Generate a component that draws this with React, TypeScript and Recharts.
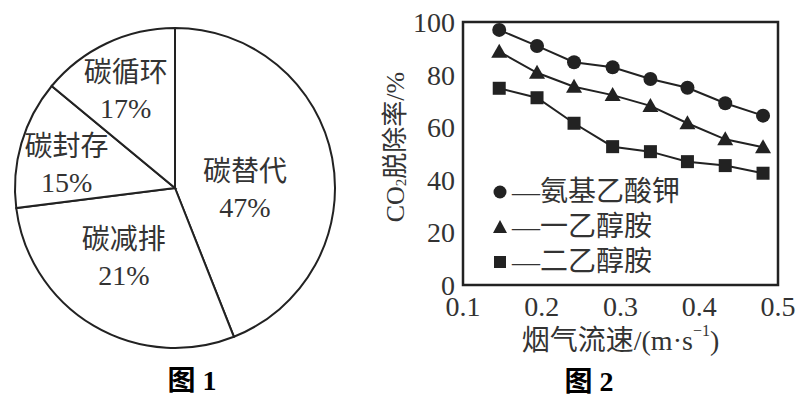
import React from 'react';
import { PieChart, Pie, LineChart, Line, XAxis, YAxis, ReferenceArea, Label } from 'recharts';

const FONT = '"Liberation Serif", "Noto Sans CJK SC", serif';
const INK = '#222';

// 图1
const pieNames = ['碳替代', '碳减排', '碳封存', '碳循环'];
const piePercentText = ['47%', '21%', '15%', '17%'];
// slice sizes as they are drawn (the drawing is not exactly to scale with the printed numbers)
const pieShares = [44, 29, 13, 14];

// 图2
const flowSpeeds = [0.146, 0.194, 0.241, 0.29, 0.338, 0.385, 0.433, 0.481];
const glycinate = [97.0, 90.9, 84.7, 82.8, 78.3, 75.0, 69.1, 64.4];
const monoEthanolamine = [88.7, 80.7, 75.4, 72.2, 68.1, 61.5, 55.4, 52.4];
const diEthanolamine = [74.8, 71.2, 61.5, 52.6, 50.7, 46.9, 45.4, 42.5];
const seriesNames = ['—氨基乙酸钾', '—一乙醇胺', '—二乙醇胺'];
const xTicks = [0.1, 0.2, 0.3, 0.4, 0.5];
const yTicks = [0, 20, 40, 60, 80, 100];

const pieData = pieNames.map((name, i) => ({ name, value: pieShares[i] }));
const lineData = flowSpeeds.map((x, i) => ({
  x,
  a: glycinate[i],
  b: monoEthanolamine[i],
  c: diEthanolamine[i],
}));

// label radius / angle nudge per slice
const SPOTS = [
  { r: 70, da: 11.6 },
  { r: 86, da: 5.9 },
  { r: 111, da: -3.7 },
  { r: 110, da: -1.4 },
];

const renderPieLabel = (p: any) => {
  const s = SPOTS[p.index];
  const t = ((90 - p.midAngle + s.da) * Math.PI) / 180;
  const x = p.cx + s.r * Math.sin(t);
  const y = p.cy - s.r * Math.cos(t);
  return (
    <text x={x} y={y} textAnchor="middle" fill="#333" fontSize={28} fontFamily={FONT}>
      <tspan x={x} dy={-8}>{p.name}</tspan>
      <tspan x={x} dy={36}>{piePercentText[p.index]}</tspan>
    </text>
  );
};

const CircleDot = (p: any) => <circle cx={p.cx} cy={p.cy} r={7} fill={INK} />;
const TriangleDot = (p: any) => (
  <polygon
    points={`${p.cx},${p.cy - 8} ${p.cx - 8},${p.cy + 6} ${p.cx + 8},${p.cy + 6}`}
    fill={INK}
  />
);
const SquareDot = (p: any) => <rect x={p.cx - 6.5} y={p.cy - 6.5} width={13} height={13} fill={INK} />;

const renderYLabel = ({ viewBox }: any) => {
  const cx = viewBox.x + 35;
  const cy = viewBox.y + 125;
  return (
    <text
      x={cx}
      y={cy}
      transform={`rotate(-90 ${cx} ${cy})`}
      textAnchor="middle"
      dominantBaseline="central"
      fontSize={26}
      fontFamily={FONT}
      fill="#333"
    >
      CO<tspan fontSize={15} dy={6}>2</tspan>
      <tspan dy={-6}>脱除率/%</tspan>
    </text>
  );
};

const renderXLabel = ({ viewBox }: any) => {
  const cx = viewBox.x + viewBox.width / 2;
  const cy = viewBox.y + 55;
  return (
    <text x={cx} y={cy} textAnchor="middle" dominantBaseline="central" fontSize={28} fontFamily={FONT} fill="#333">
      烟气流速/(m·s<tspan fontSize={16} dy={-10}>−1</tspan>
      <tspan dy={10}>)</tspan>
    </text>
  );
};

const tickStyle = { fill: '#333', fontSize: 28, fontFamily: FONT };

const legendMarks = [
  <circle key="c" cx={7} cy={7} r={6.5} fill={INK} />,
  <polygon key="t" points="7,0 0,13 14,13" fill={INK} />,
  <rect key="s" x={1} y={1} width={12} height={12} fill={INK} />,
];

export default function App() {
  return (
    <div style={{ position: 'absolute', left: 0, top: 0, width: 804, height: 401, background: '#fff', fontFamily: FONT }}>
      <div style={{ position: 'absolute', left: 0, top: 0 }}>
        <PieChart width={360} height={401} margin={{ top: 0, right: 0, bottom: 0, left: 0 }}>
          <Pie
            data={pieData}
            dataKey="value"
            nameKey="name"
            cx={175}
            cy={188}
            outerRadius={160}
            startAngle={90}
            endAngle={-270}
            fill="#fff"
            stroke={INK}
            strokeWidth={2}
            label={renderPieLabel}
            labelLine={false}
            isAnimationActive={false}
          />
        </PieChart>
      </div>

      <div style={{ position: 'absolute', left: 360, top: 0 }}>
        <LineChart width={444} height={401} data={lineData} margin={{ top: 22, right: 26, bottom: 76, left: 0 }}>
          <XAxis
            dataKey="x"
            type="number"
            domain={[0.1, 0.5]}
            ticks={xTicks}
            interval={0}
            axisLine={false}
            tickLine={false}
            tickSize={0}
            tickMargin={11}
            height={40}
            tick={tickStyle}
          >
            <Label content={renderXLabel} />
          </XAxis>
          <YAxis
            type="number"
            domain={[0, 100]}
            ticks={yTicks}
            interval={0}
            axisLine={false}
            tickLine={false}
            tickSize={0}
            tickMargin={8}
            width={103}
            tick={tickStyle}
          >
            <Label content={renderYLabel} />
          </YAxis>
          <ReferenceArea x1={0.1} x2={0.5} y1={0} y2={100} fill="none" stroke={INK} strokeWidth={2.5} />
          <Line dataKey="a" stroke={INK} strokeWidth={2} dot={CircleDot} isAnimationActive={false} />
          <Line dataKey="b" stroke={INK} strokeWidth={2} dot={TriangleDot} isAnimationActive={false} />
          <Line dataKey="c" stroke={INK} strokeWidth={2} dot={SquareDot} isAnimationActive={false} />
        </LineChart>
      </div>

      <div style={{ position: 'absolute', left: 493, top: 174 }}>
        {seriesNames.map((n, i) => (
          <div key={n} style={{ display: 'flex', alignItems: 'center', height: 35, fontSize: 28, color: '#333' }}>
            <svg width={14} height={14} style={{ marginRight: 5 }}>{legendMarks[i]}</svg>
            <span style={{ lineHeight: '35px' }}>{n}</span>
          </div>
        ))}
      </div>

      <div style={{ position: 'absolute', left: 152, top: 362, width: 80, textAlign: 'center', fontSize: 28, fontWeight: 'bold', lineHeight: '38px' }}>
        图 1
      </div>
      <div style={{ position: 'absolute', left: 549, top: 363, width: 80, textAlign: 'center', fontSize: 28, fontWeight: 'bold', lineHeight: '38px' }}>
        图 2
      </div>
    </div>
  );
}
